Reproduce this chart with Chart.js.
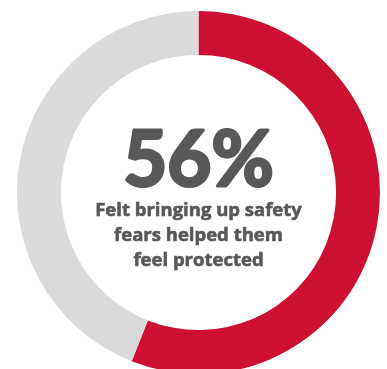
<!DOCTYPE html>
<html>
<head>
<meta charset="utf-8">
<script src="https://cdn.jsdelivr.net/npm/chart.js@4"></script>
<style>
  html, body { margin: 0; padding: 0; background: #fff; overflow: hidden; width: 387px; height: 369px; }
  #wrap { position: absolute; left: 17px; top: 11px; width: 363px; height: 363px; }
</style>
</head>
<body>
<div id="wrap"><canvas id="safetyChart"></canvas></div>
<script>
var labels = ["Felt protected", "Other"];
var values = [56, 44];
var colors = ["#cc0f32", "#dadada"];
var caption = ["Felt bringing up safety", "fears helped them", "feel protected"];

// big percentage + caption in the hole
var centerText = {
    id: "centerText",
    afterDraw: function (chart) {
        var ctx = chart.ctx;
        var meta = chart.getDatasetMeta(0).data[0];
        var cx = meta.x, cy = meta.y;
        ctx.save();
        ctx.fillStyle = "#585858";
        ctx.strokeStyle = "#585858";
        ctx.lineJoin = "round";
        ctx.textAlign = "center";
        ctx.textBaseline = "alphabetic";
        ctx.font = "bold 76px Lato";
        ctx.lineWidth = 3;
        ctx.fillText(values[0] + "%", cx, cy - 7);
        ctx.strokeText(values[0] + "%", cx, cy - 7);
        ctx.font = "bold 18.5px 'Open Sans'";
        ctx.lineWidth = 0.6;
        for (var i = 0; i < caption.length; i++) {
            ctx.fillText(caption[i], cx, cy + 23 + i * 25);
            ctx.strokeText(caption[i], cx, cy + 23 + i * 25);
        }
        ctx.restore();
    }
};

var ctx = document.getElementById("safetyChart").getContext("2d");
var myChart = new Chart(ctx, {
    type: "doughnut",
    data: {
        labels: labels,
        datasets: [
            {
                data: values,
                backgroundColor: colors,
                borderWidth: 0,
                hoverOffset: 0
            }
        ]
    },
    options: {
        responsive: true,
        maintainAspectRatio: false,
        animation: false,
        cutout: "75.8%",
        layout: { padding: 0 },
        plugins: {
            legend: { display: false },
            tooltip: { enabled: false }
        }
    },
    plugins: [centerText]
});
</script>
</body>
</html>
